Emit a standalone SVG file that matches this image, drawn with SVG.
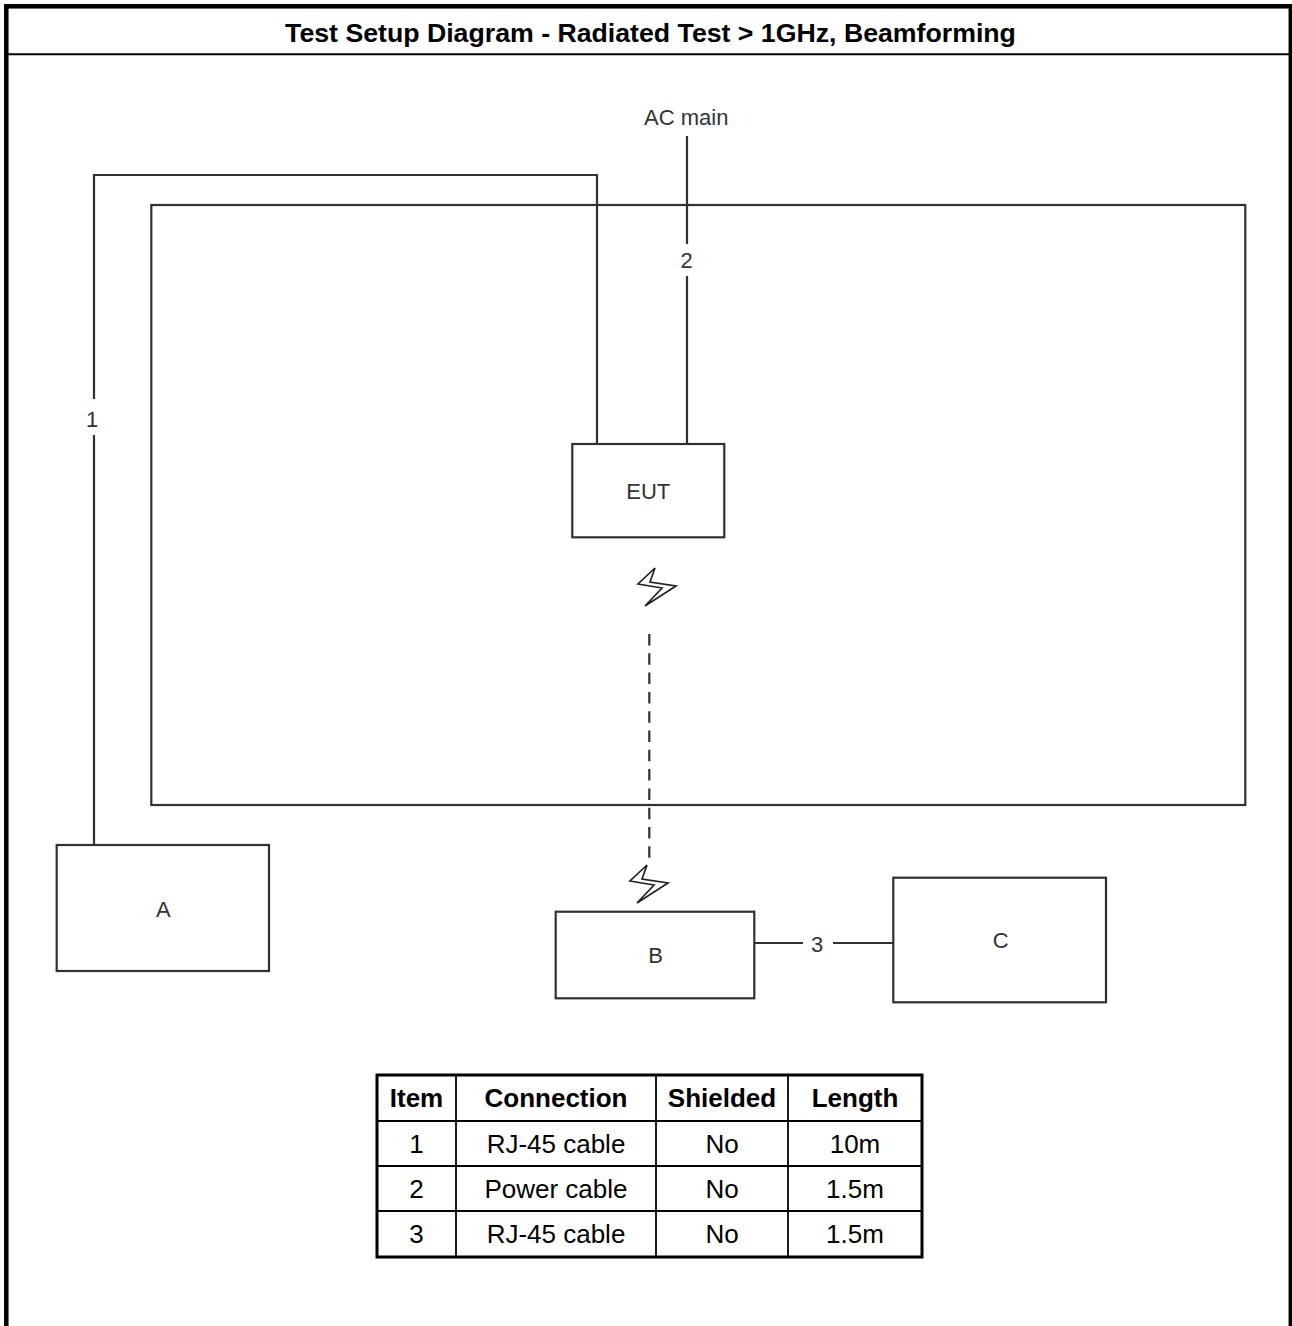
<svg xmlns="http://www.w3.org/2000/svg" xmlns:xlink="http://www.w3.org/1999/xlink" width="1292" height="1326" viewBox="0 0 1292 1326">
<style>
.box{fill:#fff;stroke:#303036;stroke-width:2.2}
.wire{fill:none;stroke:#303036;stroke-width:2.2}
.lbl{font-family:"Liberation Sans",Arial,sans-serif;font-size:22px;fill:#333;text-anchor:middle}
.title{font-family:"Liberation Sans",Arial,sans-serif;font-size:26.7px;font-weight:bold;fill:#000;text-anchor:middle}
.th{font-family:"Liberation Sans",Arial,sans-serif;font-size:26px;font-weight:bold;fill:#000;text-anchor:middle}
.td{font-family:"Liberation Sans",Arial,sans-serif;font-size:26px;fill:#000;text-anchor:middle}
.grid{stroke:#000;stroke-width:1.8;fill:none}
</style>
<defs>
<polygon id="bolt" points="655,568 638,584 662,588 645,606 676,586 650,582" fill="#fff" stroke="#222" stroke-width="1.7" stroke-linejoin="miter"/>
</defs>
<rect x="0" y="0" width="1292" height="1326" fill="#fff"/>
<g id="frame">
<rect x="6.3" y="6.3" width="1284.5" height="1345" fill="none" stroke="#000" stroke-width="4.5"/>
<line x1="6" y1="54.3" x2="1291" y2="54.3" stroke="#000" stroke-width="2"/>
<text class="title" x="650.5" y="41.5">Test Setup Diagram - Radiated Test &gt; 1GHz, Beamforming</text>
</g>
<g id="chamber">
<rect class="box" x="151.3" y="205" width="1094" height="600" style="fill:none"/>
</g>
<g id="connectors">
<path class="wire" d="M94,399 V175 H597 V444"/>
<path class="wire" d="M94,435 V845"/>
<text class="lbl" x="92" y="426.7">1</text>
<path class="wire" d="M687,136 V244"/>
<path class="wire" d="M687,276 V444"/>
<text class="lbl" x="686.7" y="268.3">2</text>
<path class="wire" d="M754,943 H803"/>
<path class="wire" d="M833,943 H893"/>
<text class="lbl" x="817" y="951.7">3</text>
<path class="wire" d="M649.3,634 V858" stroke-width="2.7" stroke-dasharray="11.5 7.8"/>
<use xlink:href="#bolt" href="#bolt"/>
<use xlink:href="#bolt" href="#bolt" transform="translate(-8,297)"/>
</g>
<g id="ac-main">
<text class="lbl" x="686.3" y="125">AC main</text>
</g>
<g id="eut">
<rect class="box" x="572.3" y="444" width="152" height="93.3"/>
<text class="lbl" x="648.3" y="499">EUT</text>
</g>
<g id="node-a">
<rect class="box" x="56.7" y="845" width="212.3" height="126"/>
<text class="lbl" x="163.3" y="916.5">A</text>
</g>
<g id="node-b">
<rect class="box" x="555.7" y="911.7" width="198.6" height="86.6"/>
<text class="lbl" x="655.7" y="962.5">B</text>
</g>
<g id="node-c">
<rect class="box" x="893.3" y="877.7" width="212.7" height="124.6"/>
<text class="lbl" x="1000.7" y="948.3">C</text>
</g>
<g id="table">
<rect x="377" y="1075" width="545" height="182" fill="#fff" stroke="#000" stroke-width="3"/>
<line class="grid" x1="456" y1="1075" x2="456" y2="1257"/>
<line class="grid" x1="656" y1="1075" x2="656" y2="1257"/>
<line class="grid" x1="788" y1="1075" x2="788" y2="1257"/>
<line class="grid" x1="377" y1="1121" x2="922" y2="1121"/>
<line class="grid" x1="377" y1="1166" x2="922" y2="1166"/>
<line class="grid" x1="377" y1="1211" x2="922" y2="1211"/>
<text class="th" x="416.5" y="1107">Item</text>
<text class="th" x="556" y="1107">Connection</text>
<text class="th" x="722" y="1107">Shielded</text>
<text class="th" x="855" y="1107">Length</text>
<text class="td" x="416.5" y="1152.5">1</text>
<text class="td" x="556" y="1152.5">RJ-45 cable</text>
<text class="td" x="722" y="1152.5">No</text>
<text class="td" x="855" y="1152.5">10m</text>
<text class="td" x="416.5" y="1198">2</text>
<text class="td" x="556" y="1198">Power cable</text>
<text class="td" x="722" y="1198">No</text>
<text class="td" x="855" y="1198">1.5m</text>
<text class="td" x="416.5" y="1243">3</text>
<text class="td" x="556" y="1243">RJ-45 cable</text>
<text class="td" x="722" y="1243">No</text>
<text class="td" x="855" y="1243">1.5m</text>
</g>
</svg>
